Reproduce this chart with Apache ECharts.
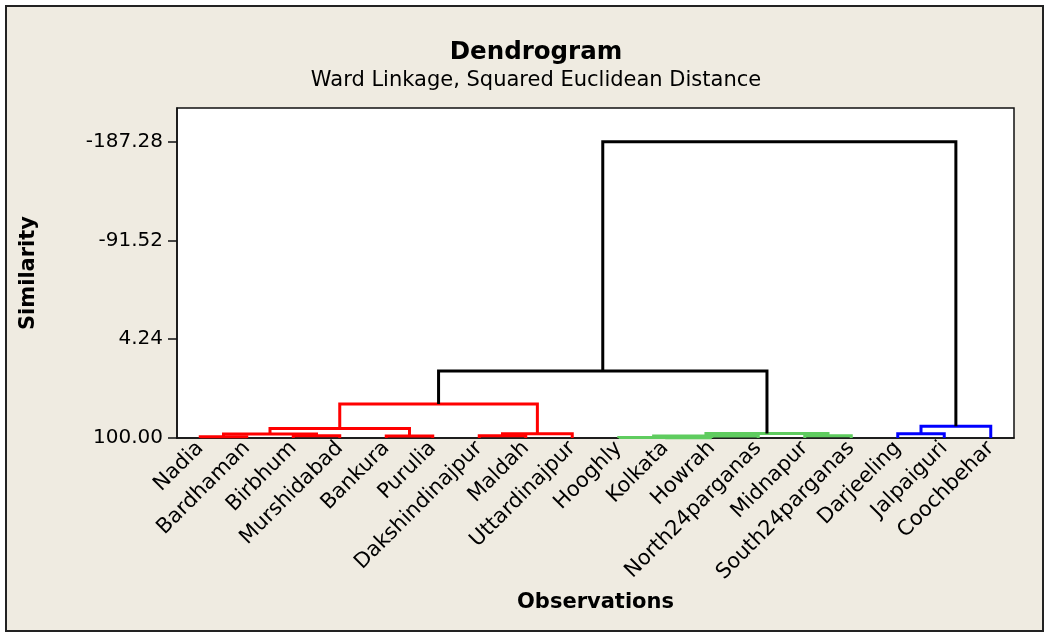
<!DOCTYPE html>
<html>
<head>
<meta charset="utf-8">
<script src="https://cdn.jsdelivr.net/npm/echarts@6/dist/echarts.min.js"></script>
<style>
  html, body { margin: 0; padding: 0; background: #fff; }
  #chart { width: 1050px; height: 638px; }
</style>
</head>
<body>
<div id="chart"></div>
<script>
// leaves, in the order they are drawn
var categories = ['Nadia', 'Bardhaman', 'Birbhum', 'Murshidabad', 'Bankura', 'Purulia',
    'Dakshindinajpur', 'Maldah', 'Uttardinajpur', 'Hooghly', 'Kolkata', 'Howrah',
    'North24parganas', 'Midnapur', 'South24parganas', 'Darjeeling', 'Jalpaiguri', 'Coochbehar'];

// merge steps: node ids 0..17 are leaves, merge k makes node 18 + k
var mergeLeft  = [0, 2, 18, 4, 20, 6, 23, 22, 10, 9, 27, 13, 28, 25, 15, 32, 31];
var mergeRight = [1, 3, 19, 5, 21, 7, 8, 24, 11, 26, 12, 14, 29, 30, 16, 17, 33];
var mergeSimilarity = [98.7, 97.8, 96.1, 98.1, 90.8, 97.8, 95.8, 67.0,
    99.8, 99.5, 98.1, 97.8, 95.6, 35.0, 95.8, 88.7, -187.28];
// cluster of each merge (-1 = joins clusters)
var mergeCluster = [0, 0, 0, 0, 0, 0, 0, 0, 1, 1, 1, 1, 1, -1, 2, 2, -1];

var yTicks = [-187.28, -91.52, 4.24, 100];

var clusterColors = ['#ff0000', '#5fcc5f', '#0000ff'];
var joinColor = '#000000';

// x position (in category index units) and height of every node
var nodeX = [], nodeY = [];
categories.forEach(function (c, i) { nodeX.push(i); nodeY.push(100); });
var links = [];
for (var k = 0; k < mergeLeft.length; k++) {
    var l = mergeLeft[k], r = mergeRight[k];
    nodeX.push((nodeX[l] + nodeX[r]) / 2);
    nodeY.push(mergeSimilarity[k]);
    links.push([nodeX[l], nodeX[r], nodeY[l], nodeY[r], mergeSimilarity[k], mergeCluster[k]]);
}

var font = 'DejaVu Sans';
var chart = echarts.init(document.getElementById('chart'));

var option = {
    backgroundColor: '#ffffff',
    animation: false,
    graphic: [{
        type: 'rect',
        z: -10,
        shape: { x: 6, y: 6, width: 1037, height: 625 },
        style: { fill: '#efebe1', stroke: '#222', lineWidth: 2 }
    }],
    title: {
        text: 'Dendrogram',
        subtext: 'Ward Linkage, Squared Euclidean Distance',
        left: 531,
        textAlign: 'center',
        top: 35,
        itemGap: 5,
        textStyle: { fontFamily: font, fontSize: 24.5, fontWeight: 'bold', color: '#000' },
        subtextStyle: { fontFamily: font, fontSize: 21, color: '#000' }
    },
    grid: {
        left: 177, right: 36, top: 108, bottom: 200,
        show: true,
        backgroundColor: '#ffffff',
        borderColor: '#111',
        borderWidth: 1.5
    },
    xAxis: [{
        type: 'category',
        data: categories,
        name: 'Observations',
        nameLocation: 'middle',
        nameGap: 154,
        nameTextStyle: { fontFamily: font, fontSize: 21, fontWeight: 'bold', color: '#000' },
        axisLine: { onZero: false, lineStyle: { color: '#111', width: 1.5 } },
        axisTick: { alignWithLabel: true, length: 8, lineStyle: { color: '#111', width: 1.5 } },
        axisLabel: { rotate: 45, margin: 7, interval: 0, fontFamily: font, fontSize: 21, color: '#000' }
    }, {
        type: 'value',
        show: false,
        min: -0.5,
        max: categories.length - 0.5
    }],
    yAxis: {
        type: 'value',
        inverse: true,
        min: -220,
        max: 100,
        name: 'Similarity',
        nameLocation: 'middle',
        nameRotate: 90,
        nameGap: 138,
        nameTextStyle: { fontFamily: font, fontSize: 21, fontWeight: 'bold', color: '#000' },
        splitLine: { show: false },
        axisLine: { show: true, onZero: false, lineStyle: { color: '#111', width: 1.5 } },
        axisTick: { show: true, length: 9, customValues: yTicks, lineStyle: { color: '#111', width: 1.5 } },
        axisLabel: {
            customValues: yTicks,
            margin: 14,
            fontFamily: font, fontSize: 20, color: '#000',
            formatter: function (v) { return v.toFixed(2); }
        }
    },
    series: [{
        type: 'custom',
        xAxisIndex: 1,
        data: links,
        encode: { x: [0, 1], y: [2, 3, 4] },
        renderItem: function (params, api) {
            var xl = api.value(0), xr = api.value(1);
            var yl = api.value(2), yr = api.value(3), h = api.value(4);
            var c = api.value(5);
            return {
                type: 'polyline',
                shape: {
                    points: [api.coord([xl, yl]), api.coord([xl, h]), api.coord([xr, h]), api.coord([xr, yr])]
                },
                style: { fill: 'none', stroke: c < 0 ? joinColor : clusterColors[c], lineWidth: 3 }
            };
        }
    }]
};

chart.setOption(option);
</script>
</body>
</html>
